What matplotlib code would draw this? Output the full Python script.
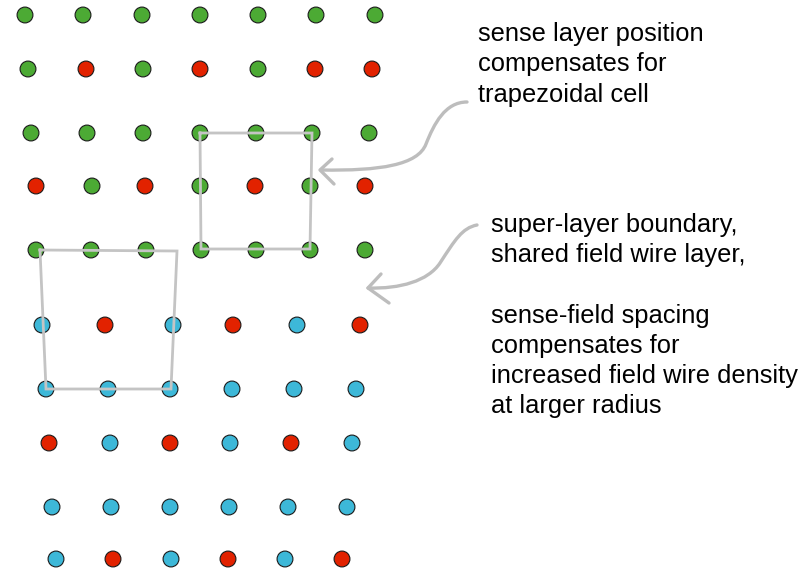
import matplotlib.pyplot as plt
from matplotlib.path import Path
from matplotlib.patches import PathPatch

# wire layers, top to bottom: y position of each layer, x of each wire, wire type
# G = field wire (outer super-layer), B = field wire (inner super-layer), R = sense wire
layer_y = [15, 69, 133, 186, 250, 325, 389, 443, 507, 559]
layer_x = [
    [25, 83, 142, 200, 258, 316, 375],
    [28, 86, 143, 200, 258, 315, 372],
    [31, 87, 143, 200, 256, 312, 369],
    [36, 92, 145, 200, 255, 310, 365],
    [36, 91, 146, 201, 256, 310, 365],
    [42, 105, 173, 233, 297, 360],
    [46, 108, 170, 232, 294, 356],
    [49, 110, 170, 230, 291, 352],
    [52, 111, 170, 229, 288, 347],
    [56, 113, 171, 228, 285, 342],
]
layer_types = ["GGGGGGG", "GRGRGRR", "GGGGGGG", "RGRGRGR", "GGGGGGG",
               "BRBRBR", "BBBBBB", "RBRBRB", "BBBBBB", "BRBRBR"]
wire_colors = {"G": "#4caa34", "R": "#e22200", "B": "#3db8d8"}

# cell outlines (x, y corners)
cell_outer = [(200, 133), (312, 133), (310, 249), (201, 249), (200, 133)]
cell_inner = [(40, 250), (177, 251), (171, 389), (46, 389), (40, 250)]

note_top = ["sense layer position", "compensates for", "trapezoidal cell"]
note_bottom = ["super-layer boundary,", "shared field wire layer,", "",
               "sense-field spacing", "compensates for",
               "increased field wire density", "at larger radius"]

fig = plt.figure(figsize=(8.12, 5.72), dpi=100)
ax = fig.add_axes([0, 0, 1, 1])
ax.set_xlim(0, 812)
ax.set_ylim(572, 0)
ax.axis("off")

box_color = "#c4c4c4"
for cell in (cell_outer, cell_inner):
    xs, ys = zip(*cell)
    ax.plot(xs, ys, color=box_color, lw=2, solid_joinstyle="miter", zorder=3)

for y, xs, types in zip(layer_y, layer_x, layer_types):
    ax.scatter(xs, [y] * len(xs), s=130, c=[wire_colors[t] for t in types],
               edgecolors="#1a1a1a", linewidths=0.8, zorder=2)

# hand-drawn style arrows
arrow_color = "#bdbdbd"
codes = [Path.MOVETO, Path.CURVE4, Path.CURVE4, Path.CURVE4,
         Path.CURVE4, Path.CURVE4, Path.CURVE4]
arrow1 = [(467, 102), (445, 102), (434, 124), (426, 144),
          (418, 165), (380, 171), (321, 170)]
arrow2 = [(477, 225), (462, 228), (455, 240), (440, 263),
          (428, 281), (400, 289), (368, 288)]
heads = [[(332, 159), (320, 170), (334, 184)],
         [(381, 274), (368, 288), (389, 303)]]
for pts in (arrow1, arrow2):
    ax.add_patch(PathPatch(Path(pts, codes), fill=False, ec=arrow_color,
                           lw=2.4, capstyle="round", zorder=4))
for h in heads:
    xs, ys = zip(*h)
    ax.plot(xs, ys, color=arrow_color, lw=2.4, solid_capstyle="round",
            solid_joinstyle="round", zorder=4)

font = dict(family=["Liberation Sans", "DejaVu Sans"], fontsize=18.4, color="black")
for i, line in enumerate(note_top):
    ax.text(478, 41 + i * 30.5, line, va="baseline", ha="left", **font)
for i, line in enumerate(note_bottom):
    ax.text(491, 232 + i * 30.2, line, va="baseline", ha="left", **font)

fig.savefig("out.png", dpi=100)
